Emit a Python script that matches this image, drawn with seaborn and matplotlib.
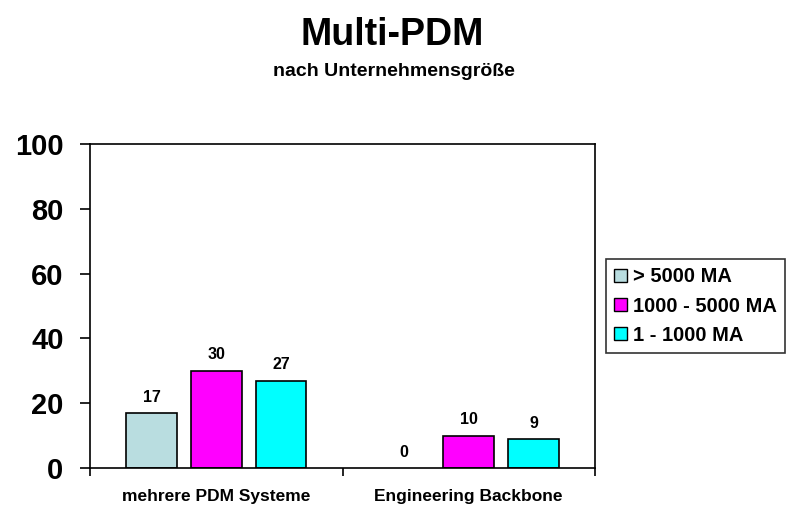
import matplotlib
matplotlib.use("Agg")
import matplotlib.pyplot as plt
import seaborn as sns
import pandas as pd
from matplotlib.ticker import FixedLocator

categories = ["mehrere PDM Systeme", "Engineering Backbone"]
series = ["> 5000 MA", "1000 - 5000 MA", "1 - 1000 MA"]
values_gt5000 = [17, 0]
values_1000_5000 = [30, 10]
values_1_1000 = [27, 9]
colors = ["#B9DDE0", "#FF00FF", "#00FFFF"]
yticks = [0, 20, 40, 60, 80, 100]

rows = []
for s, vals in zip(series, [values_gt5000, values_1000_5000, values_1_1000]):
    for c, v in zip(categories, vals):
        rows.append({"Kategorie": c, "Serie": s, "Wert": v})
df = pd.DataFrame(rows)

sns.set_theme(style="white")
plt.rcParams['font.family'] = ['Liberation Sans', 'DejaVu Sans']
plt.rcParams['text.color'] = 'black'
plt.rcParams['xtick.color'] = 'black'
plt.rcParams['ytick.color'] = 'black'

fig = plt.figure(figsize=(8, 5.2), dpi=100)
ax = fig.add_axes([0.1125, 0.1, 0.63125, 0.623])

sns.barplot(data=df, x="Kategorie", y="Wert", hue="Serie", order=categories,
            hue_order=series, palette=colors, saturation=1, width=0.77, gap=0.22,
            edgecolor="black", linewidth=1.2, ax=ax, legend=True)

for p in ax.patches:
    if p.get_height() == 0:
        p.set_edgecolor("none")

for cont in ax.containers:
    ax.bar_label(cont, labels=[f"{int(v)}" for v in cont.datavalues], padding=6,
                 fontsize=11.5, fontweight="bold", color="black")

ax.set_ylim(0, 100)
ax.set_xlim(-0.5, 1.5)
ax.set_yticks(yticks)
ax.set_yticklabels([str(t) for t in yticks], fontsize=21, fontweight="bold")
ax.tick_params(axis="y", direction="out", length=7, width=1.2, color="black", left=True, pad=12)
ax.tick_params(axis="x", which="major", length=0, pad=15)
ax.xaxis.set_minor_locator(FixedLocator([-0.5, 0.5, 1.5]))
ax.tick_params(axis="x", which="minor", direction="out", length=6, width=1.2, color="black", bottom=True)
for lbl in ax.get_xticklabels():
    lbl.set_fontsize(12.5)
    lbl.set_fontweight("bold")
ax.set_xlabel("")
ax.set_ylabel("")
for sp in ax.spines.values():
    sp.set_visible(True)
    sp.set_color("black")
    sp.set_linewidth(1.2)

leg = ax.legend(loc="center left", bbox_to_anchor=(1.022, 0.5), frameon=True,
                prop={"size": 14.5, "weight": "bold"}, handlelength=0.65, handleheight=0.65,
                handletextpad=0.3, borderpad=0.4, labelspacing=0.5, fancybox=False,
                borderaxespad=0)
leg.get_frame().set_edgecolor("black")
leg.get_frame().set_linewidth(1.2)
for h in leg.get_patches():
    h.set_edgecolor("black")
    h.set_linewidth(1.0)

fig.text(0.49, 0.933, "Multi-PDM", ha="center", va="center", fontsize=27, fontweight="bold")
fig.text(0.493, 0.862, "nach Unternehmensgröße", ha="center", va="center", fontsize=14, fontweight="bold")

fig.savefig("out.png", dpi=100, facecolor="white")
